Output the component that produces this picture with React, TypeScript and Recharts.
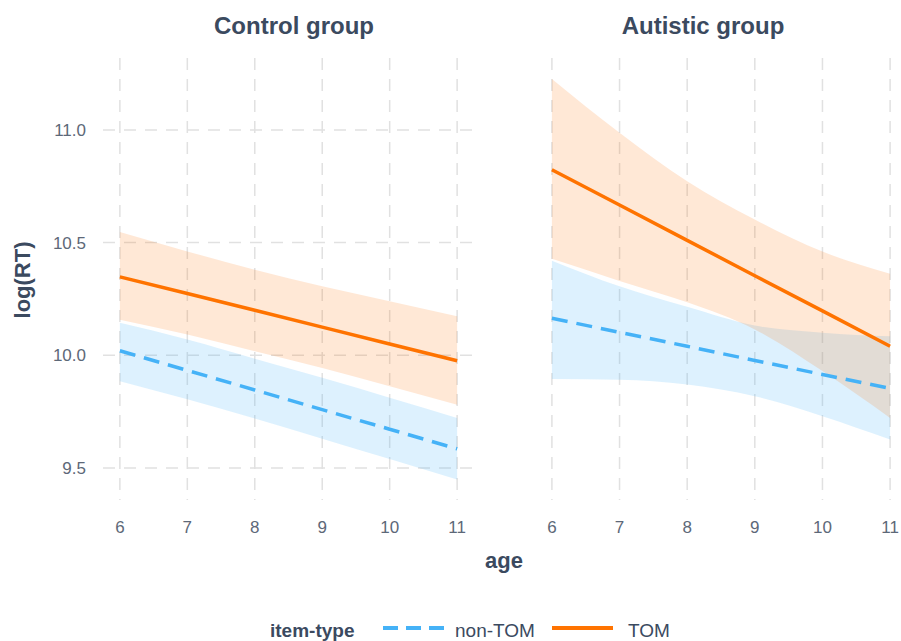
import { ComposedChart, Area, Line, XAxis, YAxis, CartesianGrid } from "recharts";

// ages on the x axis
const ages = [6, 7, 8, 9, 10, 11];
const yTicks = [9.5, 10, 10.5, 11];

// Control group
const controlTom = [10.348, 10.274, 10.2, 10.125, 10.05, 9.976];
const controlTomLow = [10.158, 10.092, 10.018, 9.944, 9.863, 9.781];
const controlTomHigh = [10.547, 10.461, 10.38, 10.306, 10.24, 10.173];
const controlNon = [10.02, 9.933, 9.846, 9.759, 9.672, 9.585];
const controlNonLow = [9.885, 9.805, 9.72, 9.63, 9.54, 9.449];
const controlNonHigh = [10.144, 10.07, 9.985, 9.9, 9.812, 9.722];

// Autistic group
const autTom = [10.823, 10.667, 10.51, 10.353, 10.197, 10.04];
const autTomLow = [10.428, 10.33, 10.235, 10.115, 9.93, 9.722];
const autTomHigh = [11.226, 10.987, 10.772, 10.602, 10.46, 10.362];
const autNon = [10.164, 10.102, 10.04, 9.977, 9.915, 9.853];
const autNonLow = [9.895, 9.892, 9.87, 9.818, 9.73, 9.626];
const autNonHigh = [10.42, 10.306, 10.215, 10.132, 10.1, 10.084];

const ORANGE = "#ff7300";
const BLUE = "#45b2f7";
const TEXT = "#3b4a5f";
const TICK = "#5d6878";
const FONT = "'Liberation Sans', Arial, Helvetica, sans-serif";

const rows = (
    tom: number[], tomLo: number[], tomHi: number[],
    non: number[], nonLo: number[], nonHi: number[],
) =>
    ages.map((age, i) => ({
        age,
        tom: tom[i],
        tomBand: [tomLo[i], tomHi[i]],
        non: non[i],
        nonBand: [nonLo[i], nonHi[i]],
    }));

const controlData = rows(controlTom, controlTomLow, controlTomHigh, controlNon, controlNonLow, controlNonHigh);
const autData = rows(autTom, autTomLow, autTomHigh, autNon, autNonLow, autNonHigh);

function Panel({ data, showY, width }: { data: any[]; showY: boolean; width: number }) {
    return (
        <ComposedChart width={width} height={560} data={data} margin={{ top: 58, right: 6, bottom: 0, left: 0 }}>
            <CartesianGrid stroke="#e1e1e1" strokeWidth={1.5} strokeDasharray="12 9" syncWithTicks />
            <XAxis
                dataKey="age"
                type="number"
                domain={[5.75, 11.25]}
                ticks={ages}
                allowDataOverflow
                height={60}
                axisLine={false}
                tickLine={false}
                tickSize={0}
                tickMargin={21}
                tick={{ fill: TICK, fontSize: 17, fontFamily: FONT }}
            />
            <YAxis
                type="number"
                domain={[9.358, 11.319]}
                ticks={yTicks}
                allowDataOverflow
                width={showY ? 103 : 0}
                axisLine={false}
                tickLine={false}
                tickSize={0}
                tickMargin={17}
                tick={showY ? { fill: TICK, fontSize: 17, fontFamily: FONT } : false}
                tickFormatter={(v) => v.toFixed(1)}
            />
            <Area
                dataKey="nonBand"
                type="monotone"
                stroke="none"
                fill={BLUE}
                fillOpacity={0.18}
                isAnimationActive={false}
            />
            <Area
                dataKey="tomBand"
                type="monotone"
                stroke="none"
                fill={ORANGE}
                fillOpacity={0.16}
                isAnimationActive={false}
            />
            <Line
                dataKey="non"
                type="linear"
                stroke={BLUE}
                strokeWidth={3.5}
                strokeDasharray="16 9"
                dot={false}
                isAnimationActive={false}
            />
            <Line
                dataKey="tom"
                type="linear"
                stroke={ORANGE}
                strokeWidth={3.5}
                dot={false}
                isAnimationActive={false}
            />
        </ComposedChart>
    );
}

export default function App() {
    return (
        <div
            style={{
                position: "fixed", top: 0, left: 0, width: 901, height: 641,
                overflow: "hidden", background: "#fff", fontFamily: FONT,
            }}
        >
            <div style={{ position: "absolute", left: 0, top: 0 }}>
                <Panel data={controlData} showY width={480} />
            </div>
            <div style={{ position: "absolute", left: 535, top: 0 }}>
                <Panel data={autData} showY={false} width={378} />
            </div>
            <svg width={901} height={641} style={{ position: "absolute", left: 0, top: 0, pointerEvents: "none" }}>
                <text x={294} y={34} textAnchor="middle" fontSize={24} fontWeight="bold" fill={TEXT}>Control group</text>
                <text x={703} y={34} textAnchor="middle" fontSize={24} fontWeight="bold" fill={TEXT}>Autistic group</text>
                <text
                    x={0} y={0}
                    transform="translate(30 280) rotate(-90)"
                    textAnchor="middle" fontSize={22} fontWeight="bold" fill={TEXT}
                >log(RT)</text>
                <text x={504} y={568} textAnchor="middle" fontSize={22} fontWeight="bold" fill={TEXT}>age</text>
                <text x={270} y={637} fontSize={19} fontWeight="bold" fill={TEXT}>item-type</text>
                <line x1={383} x2={444} y1={628} y2={628} stroke={BLUE} strokeWidth={4} strokeDasharray="15 8" />
                <text x={455} y={637} fontSize={19} fill={TEXT}>non-TOM</text>
                <line x1={552} x2={613} y1={628} y2={628} stroke={ORANGE} strokeWidth={4} />
                <text x={628} y={637} fontSize={19} fill={TEXT}>TOM</text>
            </svg>
        </div>
    );
}
